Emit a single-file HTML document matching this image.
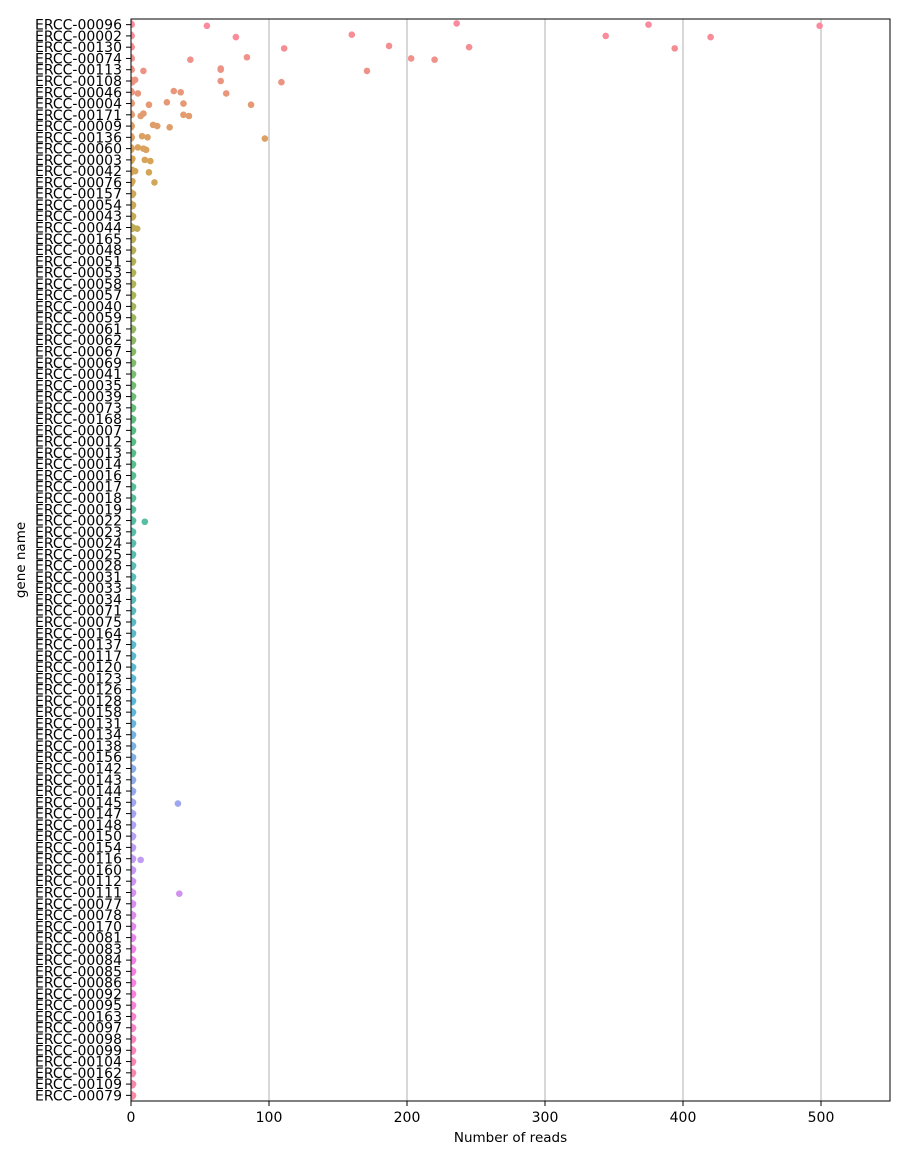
<!DOCTYPE html>
<html><head><meta charset="utf-8"><style>
body{margin:0;background:#fff;}
svg text{font-family:"DejaVu Sans","Liberation Sans",sans-serif;}
</style></head><body>
<svg id="chart" width="908" height="1159" xmlns="http://www.w3.org/2000/svg"><defs><clipPath id="pc"><rect x="131" y="19" width="759" height="1082"/></clipPath></defs><g id="pts" clip-path="url(#pc)"></g></svg>
<script>
const categories = ["ERCC-00096","ERCC-00002","ERCC-00130","ERCC-00074","ERCC-00113","ERCC-00108","ERCC-00046","ERCC-00004","ERCC-00171","ERCC-00009","ERCC-00136","ERCC-00060","ERCC-00003","ERCC-00042","ERCC-00076","ERCC-00157","ERCC-00054","ERCC-00043","ERCC-00044","ERCC-00165","ERCC-00048","ERCC-00051","ERCC-00053","ERCC-00058","ERCC-00057","ERCC-00040","ERCC-00059","ERCC-00061","ERCC-00062","ERCC-00067","ERCC-00069","ERCC-00041","ERCC-00035","ERCC-00039","ERCC-00073","ERCC-00168","ERCC-00007","ERCC-00012","ERCC-00013","ERCC-00014","ERCC-00016","ERCC-00017","ERCC-00018","ERCC-00019","ERCC-00022","ERCC-00023","ERCC-00024","ERCC-00025","ERCC-00028","ERCC-00031","ERCC-00033","ERCC-00034","ERCC-00071","ERCC-00075","ERCC-00164","ERCC-00137","ERCC-00117","ERCC-00120","ERCC-00123","ERCC-00126","ERCC-00128","ERCC-00158","ERCC-00131","ERCC-00134","ERCC-00138","ERCC-00156","ERCC-00142","ERCC-00143","ERCC-00144","ERCC-00145","ERCC-00147","ERCC-00148","ERCC-00150","ERCC-00154","ERCC-00116","ERCC-00160","ERCC-00112","ERCC-00111","ERCC-00077","ERCC-00078","ERCC-00170","ERCC-00081","ERCC-00083","ERCC-00084","ERCC-00085","ERCC-00086","ERCC-00092","ERCC-00095","ERCC-00163","ERCC-00097","ERCC-00098","ERCC-00099","ERCC-00104","ERCC-00162","ERCC-00109","ERCC-00079"];
const topValues = [
 [55,236,375,499],[76,160,344,420],[111,187,245,394],[43,84,203,220],
 [9,65,65,171],[1,3,65,109],[5,31,36,69],[13,26,38,87],
 [7,9,38,42],[0,16,19,28],[0,8,12,97],[0,5,9,11],
 [0,1,10,14],[0,1,3,13],[0,1,17]
];
const extraValues = {"ERCC-00044":[4.5],"ERCC-00022":[10],"ERCC-00145":[34],"ERCC-00116":[7],"ERCC-00111":[35]};
const baseValues = [0,0.5,1,0,1.5];
const xTicks = [0,100,200,300,400,500];
const xMax = 550;

const L=131,R=890,T=19,B=1101;
const xs = v => L + v/xMax*(R-L);
const band = (B-T)/categories.length;
const ys = i => T + (i+0.5)*band;
const pal = [[247,113,137],[206,144,50],[151,164,49],[50,177,102],[54,173,164],[57,167,208],[164,140,244],[245,97,221],[247,113,137]];
function col(i){const p=i/categories.length*8;const a=Math.floor(p),f=p-a;const c0=pal[a],c1=pal[a+1];
 return `rgb(${c0.map((c,k)=>{const v=c+(c1[k]-c)*f;return Math.round(v+(255-v)*0.18);}).join(',')})`;}
const svg=document.getElementById('chart');const NS='http://www.w3.org/2000/svg';
const ptsLayer=document.getElementById('pts');
function mk(t,a,txt,parent){const e=document.createElementNS(NS,t);for(const k in a)e.setAttribute(k,a[k]);if(txt!==undefined)e.textContent=txt;(parent||svg).appendChild(e);return e;}
svg.insertBefore(ptsLayer, null);
xTicks.forEach(t=>{if(t>0){const g=mk('line',{x1:xs(t),x2:xs(t),y1:T,y2:B,stroke:'#b0b0b0','stroke-width':1});


svg.insertBefore(g, ptsLayer);}
 const tk=mk('line',{x1:xs(t),x2:xs(t),y1:B,y2:B+5,stroke:'#000'});
 
 
 const lb=mk('text',{x:xs(t),y:B+21,'font-size':14,'text-anchor':'middle'},String(t));
 
 
});
categories.forEach((c,i)=>{
 const tk=mk('line',{x1:L-5,x2:L,y1:ys(i),y2:ys(i),stroke:'#000'});
 
 
 const lb=mk('text',{x:L-9,y:ys(i)+5,'font-size':14,'text-anchor':'end'},c);
 
 
});
categories.forEach((c,i)=>{
 let vals = baseValues.slice();
 if(i<topValues.length) vals = vals.slice(0,2).concat(topValues[i]);
 if(extraValues[c]) vals = vals.concat(extraValues[c]);
 vals.forEach((v,j)=>{
  const p=mk('circle',{cx:xs(v),cy:ys(i)+((j%3)-1)*1.2,r:3.3,fill:col(i)},undefined,ptsLayer);
  
  
 });
});
const fr=mk('rect',{x:L,y:T,width:R-L,height:B-T,fill:'none',stroke:'#000','stroke-width':1});


const xt=mk('text',{x:(L+R)/2,y:1142,'font-size':13.5,'text-anchor':'middle'},'Number of reads');


const yt=mk('text',{x:0,y:0,'font-size':13.5,'text-anchor':'middle',transform:`translate(25,${(T+B)/2}) rotate(-90)`},'gene name');


</script>
</body></html>
